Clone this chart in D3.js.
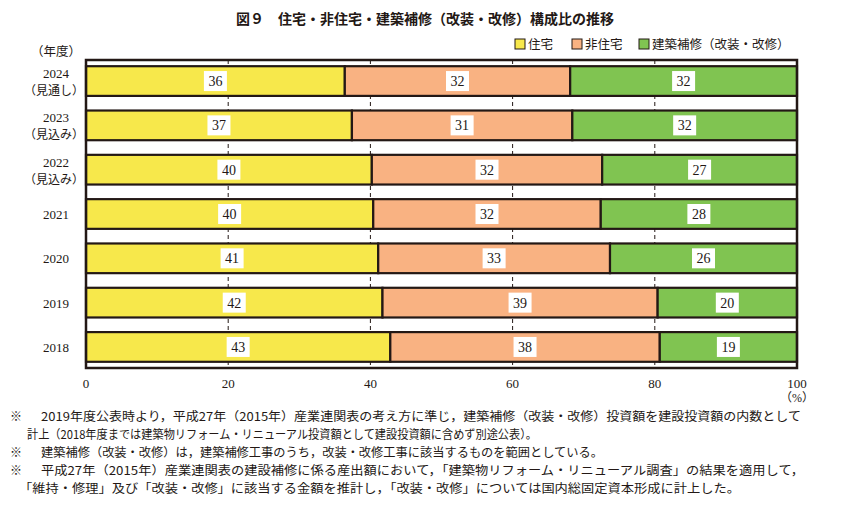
<!DOCTYPE html>
<meta charset="utf-8">
<html>
<style>
  body { margin: 0; background: #fff; }
  text { font-family: "Liberation Serif", "DejaVu Serif", "Noto Sans CJK JP", serif; fill: #231815; }
  .jp { font-family: "Noto Sans CJK JP", sans-serif; }
</style>
<body>
<script src="https://cdn.jsdelivr.net/npm/d3@7"></script>
<script>
  // years, top to bottom
  var years = ["2024", "2023", "2022", "2021", "2020", "2019", "2018"];
  var yearNotes = ["（見通し）", "（見込み）", "（見込み）", "", "", "", ""];
  var seriesNames = ["住宅", "非住宅", "建築補修（改装・改修）"];
  var housing = [36.4, 37.4, 40.2, 40.4, 41.1, 41.7, 42.8];
  var nonHousing = [31.7, 31.0, 32.4, 32.0, 32.6, 38.7, 37.9];
  var repair = [31.9, 31.6, 27.4, 27.6, 26.3, 19.6, 19.3];
  var xTicks = [0, 20, 40, 60, 80, 100];
  var notes = [
    ["※", "2019年度公表時より，平成27年（2015年）産業連関表の考え方に準じ，建築補修（改装・改修）投資額を建設投資額の内数として"],
    ["", "計上（2018年度までは建築物リフォーム・リニューアル投資額として建設投資額に含めず別途公表）。"],
    ["※", "建築補修（改装・改修）は，建築補修工事のうち，改装・改修工事に該当するものを範囲としている。"],
    ["※", "平成27年（2015年）産業連関表の建設補修に係る産出額において，「建築物リフォーム・リニューアル調査」の結果を適用して，"],
    ["", "「維持・修理」及び「改装・改修」に該当する金額を推計し，「改装・改修」については国内総固定資本形成に計上した。"]
  ];

  var colors = ["#f7e84b", "#f9b282", "#80c451"];
  var seriesData = [housing, nonHousing, repair];

  var svg = d3.select("body").append("svg")
      .attr("width", 854).attr("height", 506);

  // plot area
  var plotL = 86, plotR = 797, plotT = 60, plotB = 368;

  var x = d3.scaleLinear().domain([0, 100]).range([plotL, plotR]);
  var y = d3.scaleBand().domain(years).range([plotT, plotB])
      .paddingInner(0.33).paddingOuter(0.14);

  // title
  svg.append("text")
      .attr("class", "jp")
      .attr("x", 425).attr("y", 24)
      .attr("text-anchor", "middle")
      .style("font-size", "14px").style("font-weight", "bold")
      .text("図９　住宅・非住宅・建築補修（改装・改修）構成比の推移");

  // legend
  var legendX = [515, 572, 639];
  seriesNames.forEach(function (name, i) {
    svg.append("rect")
        .attr("x", legendX[i]).attr("y", 39)
        .attr("width", 10).attr("height", 10)
        .attr("fill", colors[i]).attr("stroke", "#231815").attr("stroke-width", 1);
    svg.append("text")
        .attr("class", "jp")
        .attr("x", legendX[i] + 13).attr("y", 48.5)
        .style("font-size", "12.5px")
        .text(name);
  });

  // dashed grid lines
  svg.selectAll(".grid")
      .data([20, 40, 60, 80])
      .enter().append("line")
      .attr("x1", function (d) { return x(d); })
      .attr("x2", function (d) { return x(d); })
      .attr("y1", plotT).attr("y2", plotB)
      .attr("stroke", "#231815").attr("stroke-width", 1)
      .attr("stroke-dasharray", "4,3");

  // stacked bars
  years.forEach(function (yr, i) {
    var start = 0;
    seriesData.forEach(function (s, j) {
      var v = s[i];
      var g = svg.append("g");
      g.append("rect")
          .attr("x", x(start)).attr("y", y(yr))
          .attr("width", x(start + v) - x(start))
          .attr("height", y.bandwidth())
          .attr("fill", colors[j])
          .attr("stroke", "#231815").attr("stroke-width", 2.2);
      var cx = (x(start) + x(start + v)) / 2;
      var cy = y(yr) + y.bandwidth() / 2;
      g.append("rect")
          .attr("x", cx - 11.5).attr("y", cy - 10)
          .attr("width", 23).attr("height", 20)
          .attr("fill", "#fff");
      g.append("text")
          .attr("x", cx).attr("y", cy + 5)
          .attr("text-anchor", "middle")
          .style("font-size", "14px")
          .text(Math.round(v));
      start += v;
    });
  });

  // frame
  svg.append("rect")
      .attr("x", plotL).attr("y", plotT)
      .attr("width", plotR - plotL).attr("height", plotB - plotT)
      .attr("fill", "none").attr("stroke", "#231815").attr("stroke-width", 2.5);

  // x axis labels
  svg.selectAll(".xt")
      .data(xTicks)
      .enter().append("text")
      .attr("x", function (d) { return x(d); })
      .attr("y", 388)
      .attr("text-anchor", "middle")
      .style("font-size", "13px")
      .text(function (d) { return d; });
  svg.append("text")
      .attr("x", x(100)).attr("y", 402)
      .attr("text-anchor", "middle")
      .style("font-size", "12px")
      .text("（%）");

  // y labels
  svg.append("text")
      .attr("class", "jp")
      .attr("x", 56).attr("y", 56)
      .attr("text-anchor", "middle")
      .style("font-size", "12.5px")
      .text("（年度）");
  years.forEach(function (yr, i) {
    var cy = y(yr) + y.bandwidth() / 2;
    if (yearNotes[i]) {
      svg.append("text")
          .attr("x", 56).attr("y", cy - 3)
          .attr("text-anchor", "middle")
          .style("font-size", "13px")
          .text(yr);
      svg.append("text")
          .attr("class", "jp")
          .attr("x", 54).attr("y", cy + 14)
          .attr("text-anchor", "middle")
          .style("font-size", "12px")
          .text(yearNotes[i]);
    } else {
      svg.append("text")
          .attr("x", 56).attr("y", cy + 5)
          .attr("text-anchor", "middle")
          .style("font-size", "13px")
          .text(yr);
    }
  });

  // footnotes (text spans fitted to the reference line widths)
  var noteStart = [41, 27, 41, 41, 19];
  var noteEnd = [801, 537, 603, 804, 740];
  notes.forEach(function (n, i) {
    var ly = 421 + i * 18;
    if (n[0]) {
      svg.append("text")
          .attr("class", "jp")
          .attr("x", 10).attr("y", ly)
          .style("font-size", "12px")
          .text(n[0]);
    }
    svg.append("text")
        .attr("class", "jp")
        .attr("x", noteStart[i]).attr("y", ly)
        .style("font-size", "12px")
        .attr("textLength", noteEnd[i] - noteStart[i])
        .attr("lengthAdjust", "spacingAndGlyphs")
        .text(n[1]);
  });
</script>
</body>
</html>
